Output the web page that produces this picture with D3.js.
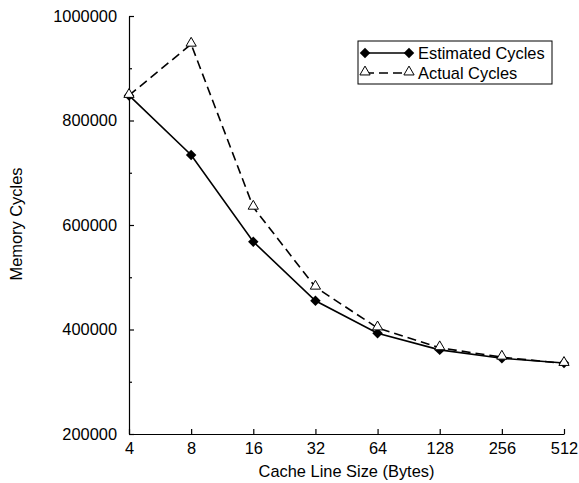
<!DOCTYPE html>
<html>
<head>
<meta charset="utf-8">
<script src="https://cdn.jsdelivr.net/npm/d3@7"></script>
<style>
  body { margin: 0; background: #fff; }
  text { font-family: "Liberation Sans", Arial, sans-serif; }
</style>
</head>
<body>
<div id="chart"></div>
<script>
// Data
var lineSizes = ["4", "8", "16", "32", "64", "128", "256", "512"];
var estimated = [848000, 734000, 568000, 455000, 393000, 361000, 345000, 336000];
var actual = [848000, 946000, 634000, 481000, 403000, 365000, 347000, 335000];
var yTicks = [200000, 400000, 600000, 800000, 1000000];
var yMinor = [300000, 500000, 700000, 900000];

var margin = { top: 16, right: 15, bottom: 49, left: 129 },
    width = 579 - margin.left - margin.right,
    height = 483 - margin.top - margin.bottom;

var svg = d3.select('#chart').append('svg')
    .attr('width', 579)
    .attr('height', 483)
    .append('g')
    .attr('transform', 'translate(' + margin.left + ',' + margin.top + ')');

var x = d3.scalePoint().domain(lineSizes).range([0, 435]);
var y = d3.scaleLinear().domain([200000, 1000000]).range([height, 0]);

// axes, ticks pointing inwards
svg.append("g")
    .attr("transform", "translate(0," + height + ")")
    .call(d3.axisBottom(x).tickSizeInner(-5).tickSizeOuter(0).tickPadding(8));

svg.append("g")
    .call(d3.axisLeft(y).tickValues(yTicks).tickFormat(d3.format("d"))
        .tickSizeInner(-5).tickSizeOuter(0).tickPadding(12));

svg.append("g")
    .call(d3.axisLeft(y).tickValues(yMinor).tickFormat("")
        .tickSizeInner(-3).tickSizeOuter(0))
    .select(".domain").remove();

svg.selectAll(".domain, .tick line").attr("stroke", "#000").attr("stroke-width", 1.2);
svg.selectAll(".tick text").style("font-size", "16.4px").attr("fill", "#000");

// axis titles
svg.append("text")
    .attr("x", 435 / 2)
    .attr("y", height + 43)
    .style("text-anchor", "middle")
    .style("font-size", "16.4px")
    .text("Cache Line Size (Bytes)");

svg.append("text")
    .attr("transform", "rotate(-90)")
    .attr("x", -208)
    .attr("y", -107)
    .style("text-anchor", "middle")
    .style("font-size", "16.4px")
    .text("Memory Cycles");

var line = d3.line()
    .x(function (d, i) { return x(lineSizes[i]); })
    .y(function (d) { return y(d); });

var diamond = d3.symbol().type(d3.symbolDiamond2).size(70);
var triangle = d3.symbol().type(d3.symbolTriangle2).size(75);

// estimated series
svg.append('path')
    .datum(estimated)
    .attr("d", line)
    .attr("fill", "none")
    .attr("stroke", "#000")
    .attr("stroke-width", 1.6);

svg.selectAll(".est")
    .data(estimated)
    .enter().append("path")
    .attr("class", "est")
    .attr("d", diamond)
    .attr("fill", "#000")
    .attr("transform", function (d, i) { return "translate(" + x(lineSizes[i]) + "," + y(d) + ")"; });

// actual series
svg.append('path')
    .datum(actual)
    .attr("d", line)
    .attr("fill", "none")
    .attr("stroke", "#000")
    .attr("stroke-width", 1.6)
    .attr("stroke-dasharray", "9,5");

svg.selectAll(".act")
    .data(actual)
    .enter().append("path")
    .attr("class", "act")
    .attr("d", triangle)
    .attr("fill", "#fff")
    .attr("stroke", "#000")
    .attr("stroke-width", 1)
    .attr("transform", function (d, i) { return "translate(" + x(lineSizes[i]) + "," + (y(d) - 1) + ")"; });

// legend
var legend = svg.append("g").attr("transform", "translate(" + (358 - margin.left) + "," + (41 - margin.top) + ")");
legend.append("rect")
    .attr("width", 194).attr("height", 43)
    .attr("fill", "#fff").attr("stroke", "#000").attr("stroke-width", 1);

legend.append("line").attr("x1", 7).attr("x2", 51).attr("y1", 12).attr("y2", 12)
    .attr("stroke", "#000").attr("stroke-width", 1.6);
[7, 51].forEach(function (px) {
    legend.append("path").attr("d", diamond).attr("fill", "#000")
        .attr("transform", "translate(" + px + ",12)");
});
legend.append("line").attr("x1", 7).attr("x2", 51).attr("y1", 32).attr("y2", 32)
    .attr("stroke", "#000").attr("stroke-width", 1.6).attr("stroke-dasharray", "9,5");
[7, 51].forEach(function (px) {
    legend.append("path").attr("d", triangle).attr("fill", "#fff")
        .attr("stroke", "#000").attr("stroke-width", 1)
        .attr("transform", "translate(" + px + ",31)");
});
legend.append("text").attr("x", 60).attr("y", 18).style("font-size", "16.4px").text("Estimated Cycles");
legend.append("text").attr("x", 60).attr("y", 38).style("font-size", "16.4px").text("Actual Cycles");
</script>
</body>
</html>
